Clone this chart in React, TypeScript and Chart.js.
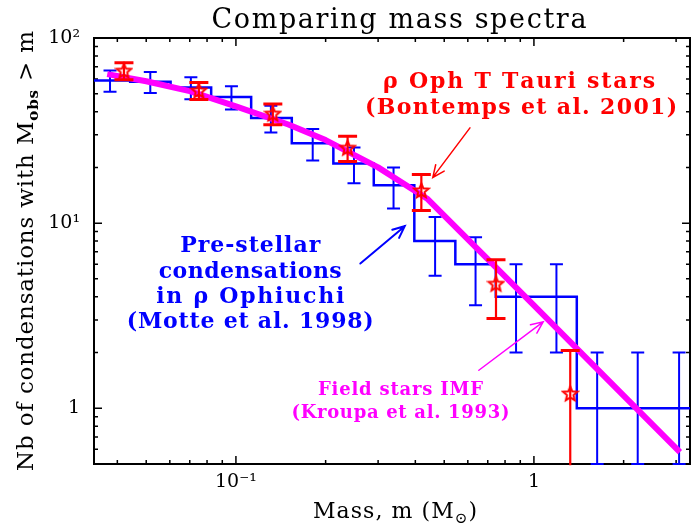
import React, { useEffect, useRef } from 'react';
import { Chart, registerables } from 'chart.js';

Chart.register(...registerables);

// ---------- data ----------
// Pre-stellar condensations (Motte et al. 1998): cumulative counts N(>m)
const histMass = [0.0378, 0.0516, 0.0706, 0.0966, 0.131, 0.181, 0.249, 0.338, 0.466, 0.637, 0.871, 1.19, 1.63, 2.23, 3.07];
const histCount = [59, 58, 54, 48, 37, 27, 21, 16, 8, 6, 4, 4, 1, 1, 1];
const histErr = [7.7, 7.6, 7.3, 6.9, 6.1, 5.2, 4.6, 4.0, 2.8, 2.4, 2.0, 2.0, 1.0, 1.0, 1.0];

// rho Oph T Tauri stars (Bontemps et al. 2001)
const starMass = [0.0421, 0.0751, 0.133, 0.237, 0.419, 0.746, 1.324];
const starCount = [66.5, 52, 39, 25.5, 15, 4.7, 1.2];
const starErr = [7, 5.5, 5, 4, 3.3, 1.65, 0.85];

// Field stars IMF (Kroupa et al. 1993)
const kroupaMass = [0.037, 0.05, 0.07, 0.1, 0.15, 0.2, 0.3, 0.44, 1.0, 2.0, 3.09];
const kroupaCount = [63.8, 58.4, 51.6, 42.7, 34.1, 28.1, 20.0, 13.5, 3.6, 1.17, 0.58];

// axes
const xRange = [0.0334, 3.34];
const yRange = [0.5, 100];
const xTickValues = [0.1, 1];
const xTickLabels = ['10⁻¹', '1'];
const yTickValues = [1, 10, 100];
const yTickLabels = ['1', '10¹', '10²'];
const xMinorTicks = [0.04, 0.05, 0.06, 0.07, 0.08, 0.09, 0.2, 0.3, 0.4, 0.5, 0.6, 0.7, 0.8, 0.9, 2, 3];
const yMinorTicks = [0.6, 0.7, 0.8, 0.9, 2, 3, 4, 5, 6, 7, 8, 9, 20, 30, 40, 50, 60, 70, 80, 90];

// texts
const titleText = 'Comparing mass spectra';
const redNoteLines = ['ρ Oph T Tauri stars', '(Bontemps et al. 2001)'];
const blueNoteLines = ['Pre-stellar', 'condensations', 'in ρ Ophiuchi', '(Motte et al. 1998)'];
const magentaNoteLines = ['Field stars IMF', '(Kroupa et al. 1993)'];

// ---------- styling / placement (data coordinates for annotations) ----------
const SERIF = '"DejaVu Serif", serif';
const BLUE = '#0000ff';
const RED = '#ff0000';
const MAGENTA = '#ff00ff';

const redNotePos = { mass: [0.8917, 0.9055], count: [53.66, 38.83], width: [272, 312] };
const blueNotePos = { mass: [0.1117, 0.1117, 0.1117, 0.1117], count: [6.97, 5.04, 3.694, 2.706], width: [140, 183, 188, 247] };
const magentaNotePos = { mass: [0.3566, 0.3566], count: [1.176, 0.883], width: [165, 218] };

const arrows = [
  { from: [0.61, 32.7], to: [0.4578, 17.66], color: RED, lw: 1.5 },
  { from: [0.2615, 6.05], to: [0.3686, 9.63], color: BLUE, lw: 2 },
  { from: [0.6534, 1.605], to: [1.074, 2.93], color: MAGENTA, lw: 1.5 },
];

type Seg = { text: string; font: string; dy?: number };

function drawRich(ctx: CanvasRenderingContext2D, segs: Seg[], cx: number, baseline: number, width: number, color: string) {
  const items: { c: string; font: string; dy: number; w: number }[] = [];
  for (const s of segs) {
    ctx.font = s.font;
    for (const c of Array.from(s.text)) {
      items.push({ c, font: s.font, dy: s.dy || 0, w: ctx.measureText(c).width });
    }
  }
  const natural = items.reduce((a, b) => a + b.w, 0);
  const gap = items.length > 1 ? (width - natural) / (items.length - 1) : 0;
  let x = cx - width / 2;
  ctx.fillStyle = color;
  ctx.textAlign = 'left';
  ctx.textBaseline = 'alphabetic';
  for (const it of items) {
    ctx.font = it.font;
    ctx.fillText(it.c, x, baseline + it.dy);
    x += it.w + gap;
  }
}

function makeStar(size: number, color: string, lw: number) {
  const c = document.createElement('canvas');
  c.width = size;
  c.height = size;
  const g = c.getContext('2d')!;
  const R = size / 2 - lw;
  const r = R * 0.45;
  const cx = size / 2;
  const cy = size / 2 + 0.5;
  g.beginPath();
  for (let i = 0; i < 10; i++) {
    const a = -Math.PI / 2 + (i * Math.PI) / 5;
    const rr = i % 2 ? r : R;
    const px = cx + rr * Math.cos(a);
    const py = cy + rr * Math.sin(a);
    if (i === 0) g.moveTo(px, py);
    else g.lineTo(px, py);
  }
  g.closePath();
  g.strokeStyle = color;
  g.lineWidth = lw;
  g.lineJoin = 'miter';
  g.stroke();
  return c;
}

function drawArrow(ctx: CanvasRenderingContext2D, x1: number, y1: number, x2: number, y2: number, color: string, lw: number) {
  ctx.save();
  ctx.strokeStyle = color;
  ctx.lineWidth = lw;
  ctx.lineCap = 'round';
  ctx.beginPath();
  ctx.moveTo(x1, y1);
  ctx.lineTo(x2, y2);
  const ang = Math.atan2(y2 - y1, x2 - x1);
  const L = 13;
  const spread = 0.42;
  ctx.moveTo(x2 - L * Math.cos(ang - spread), y2 - L * Math.sin(ang - spread));
  ctx.lineTo(x2, y2);
  ctx.lineTo(x2 - L * Math.cos(ang + spread), y2 - L * Math.sin(ang + spread));
  ctx.stroke();
  ctx.restore();
}

const annotPlugin = {
  id: 'annot',
  beforeDatasetsDraw(chart: any) {
    const { ctx, chartArea: a, scales } = chart;
    const xs = scales.x;
    const ys = scales.y;
    ctx.save();
    ctx.strokeStyle = '#000';
    ctx.lineWidth = 1.5;
    ctx.beginPath();
    const tick = (v: number, len: number, axis: 'x' | 'y') => {
      if (axis === 'x') {
        const p = xs.getPixelForValue(v);
        ctx.moveTo(p, a.bottom);
        ctx.lineTo(p, a.bottom - len);
        ctx.moveTo(p, a.top);
        ctx.lineTo(p, a.top + len);
      } else {
        const p = ys.getPixelForValue(v);
        ctx.moveTo(a.left, p);
        ctx.lineTo(a.left + len, p);
        ctx.moveTo(a.right, p);
        ctx.lineTo(a.right - len, p);
      }
    };
    xTickValues.forEach((v) => tick(v, 8, 'x'));
    xMinorTicks.forEach((v) => tick(v, 4, 'x'));
    yTickValues.forEach((v) => tick(v, 8, 'y'));
    yMinorTicks.forEach((v) => tick(v, 4, 'y'));
    ctx.stroke();
    ctx.lineWidth = 2;
    ctx.strokeRect(a.left, a.top, a.right - a.left, a.bottom - a.top);
    ctx.restore();
  },
  afterDatasetDraw(chart: any, args: any) {
    const ds = chart.data.datasets[args.index];
    const eb = ds.errorBars;
    if (!eb) return;
    const { ctx, chartArea: a, scales } = chart;
    ctx.save();
    ctx.beginPath();
    ctx.rect(a.left, a.top - 2, a.right - a.left, a.bottom - a.top + 3.2);
    ctx.clip();
    ctx.strokeStyle = eb.color;
    ctx.lineCap = 'butt';
    eb.xs.forEach((m: number, i: number) => {
      const n = eb.ys[i];
      const e = eb.errs[i];
      const px = scales.x.getPixelForValue(m);
      const lo = n - e;
      const pHi = scales.y.getPixelForValue(n + e);
      const pLo = lo <= 0 ? scales.y.getPixelForValue(0) : scales.y.getPixelForValue(lo);
      ctx.lineWidth = eb.lw;
      ctx.beginPath();
      ctx.moveTo(px, pHi);
      ctx.lineTo(px, pLo);
      ctx.stroke();
      ctx.lineWidth = eb.capLw;
      ctx.beginPath();
      ctx.moveTo(px - eb.cap, pHi);
      ctx.lineTo(px + eb.cap, pHi);
      ctx.moveTo(px - eb.cap, pLo);
      ctx.lineTo(px + eb.cap, pLo);
      ctx.stroke();
    });
    ctx.restore();
  },
  afterDraw(chart: any) {
    const { ctx, chartArea: a, scales } = chart;
    const xs = scales.x;
    const ys = scales.y;
    ctx.save();
    // title
    drawRich(ctx, [{ text: titleText, font: `27px ${SERIF}` }], 399, 28, 375, '#000');
    // x title
    drawRich(
      ctx,
      [
        { text: 'Mass, m (M', font: `22px ${SERIF}` },
        { text: '⊙', font: `15px ${SERIF}`, dy: 5 },
        { text: ')', font: `22px ${SERIF}` },
      ],
      (a.left + a.right) / 2 + 3,
      518,
      164,
      '#000'
    );
    // y title
    ctx.save();
    ctx.translate(33, (a.top + a.bottom) / 2);
    ctx.rotate(-Math.PI / 2);
    drawRich(
      ctx,
      [
        { text: 'Nb of condensations with M', font: `23px ${SERIF}` },
        { text: 'obs', font: `bold 15px ${SERIF}`, dy: 5 },
        { text: ' > m', font: `23px ${SERIF}` },
      ],
      0,
      0,
      440,
      '#000'
    );
    ctx.restore();
    // annotations
    redNoteLines.forEach((t, i) =>
      drawRich(ctx, [{ text: t, font: `bold 22px ${SERIF}` }], xs.getPixelForValue(redNotePos.mass[i]), ys.getPixelForValue(redNotePos.count[i]), redNotePos.width[i], RED)
    );
    blueNoteLines.forEach((t, i) =>
      drawRich(ctx, [{ text: t, font: `bold 22px ${SERIF}` }], xs.getPixelForValue(blueNotePos.mass[i]), ys.getPixelForValue(blueNotePos.count[i]), blueNotePos.width[i], BLUE)
    );
    magentaNoteLines.forEach((t, i) =>
      drawRich(ctx, [{ text: t, font: `bold 18px ${SERIF}` }], xs.getPixelForValue(magentaNotePos.mass[i]), ys.getPixelForValue(magentaNotePos.count[i]), magentaNotePos.width[i], MAGENTA)
    );
    arrows.forEach((ar) =>
      drawArrow(ctx, xs.getPixelForValue(ar.from[0]), ys.getPixelForValue(ar.from[1]), xs.getPixelForValue(ar.to[0]), ys.getPixelForValue(ar.to[1]), ar.color, ar.lw)
    );
    ctx.restore();
  },
};

export default function App() {
  const ref = useRef<HTMLCanvasElement | null>(null);
  useEffect(() => {
    document.body.style.margin = '0';
    const canvas = ref.current!;
    const starImg = makeStar(19, RED, 2);
    // histogram drawn as steps centred on the points, with half-bins at both ends
    const firstEdge = histMass[0] / Math.sqrt(histMass[1] / histMass[0]);
    const n = histMass.length;
    const lastEdge = histMass[n - 1] * Math.sqrt(histMass[n - 1] / histMass[n - 2]);
    const histData = [
      { x: firstEdge, y: histCount[0] },
      ...histMass.map((m, i) => ({ x: m, y: histCount[i] })),
      { x: lastEdge, y: histCount[n - 1] },
    ];
    const chart = new Chart(canvas, {
      type: 'line',
      data: {
        datasets: [
          {
            label: 'T Tauri',
            data: starMass.map((m, i) => ({ x: m, y: starCount[i] })),
            showLine: false,
            pointStyle: starImg as any,
            pointRadius: 8,
            borderColor: RED,
            backgroundColor: RED,
            order: 0,
            clip: 4,
            errorBars: { xs: starMass, ys: starCount, errs: starErr, color: RED, lw: 2.2, capLw: 3, cap: 9.5 },
          } as any,
          {
            label: 'Kroupa',
            data: kroupaMass.map((m, i) => ({ x: m, y: kroupaCount[i] })),
            borderColor: MAGENTA,
            borderWidth: 6,
            pointRadius: 0,
            tension: 0,
            borderJoinStyle: 'round',
            borderCapStyle: 'butt',
            order: 1,
          },
          {
            label: 'Condensations',
            data: histData,
            stepped: 'middle',
            borderColor: BLUE,
            borderWidth: 2.5,
            pointRadius: 0,
            borderJoinStyle: 'miter',
            clip: 0,
            order: 2,
            errorBars: { xs: histMass, ys: histCount, errs: histErr, color: BLUE, lw: 2, capLw: 2, cap: 6.5 },
          } as any,
        ],
      },
      options: {
        animation: false,
        responsive: false,
        events: [],
        layout: { padding: { top: 38, right: 2, left: 0, bottom: 0 } },
        plugins: { legend: { display: false }, tooltip: { enabled: false }, title: { display: false } },
        scales: {
          x: {
            type: 'logarithmic',
            min: xRange[0],
            max: xRange[1],
            grid: { display: false, drawTicks: false },
            border: { display: false },
            ticks: {
              autoSkip: false,
              maxRotation: 0,
              padding: 7,
              color: '#000',
              font: { family: 'DejaVu Serif', size: 19 },
              callback: (v: any) => {
                const i = xTickValues.indexOf(Number(v));
                return i >= 0 ? xTickLabels[i] : '';
              },
            },
            afterBuildTicks: (s: any) => {
              s.ticks = xTickValues.map((v) => ({ value: v }));
            },
            afterFit: (s: any) => {
              s.height = 65;
            },
          },
          y: {
            type: 'logarithmic',
            min: yRange[0],
            max: yRange[1],
            grid: { display: false, drawTicks: false },
            border: { display: false },
            ticks: {
              autoSkip: false,
              padding: 14,
              color: '#000',
              font: { family: 'DejaVu Serif', size: 19 },
              callback: (v: any) => {
                const i = yTickValues.indexOf(Number(v));
                return i >= 0 ? yTickLabels[i] : '';
              },
            },
            afterBuildTicks: (s: any) => {
              s.ticks = yTickValues.map((v) => ({ value: v }));
            },
            afterFit: (s: any) => {
              s.width = 94;
            },
          },
        },
      } as any,
      plugins: [annotPlugin],
    });
    return () => chart.destroy();
  }, []);
  return <canvas ref={ref} width={699} height={529} style={{ display: 'block' }} />;
}
